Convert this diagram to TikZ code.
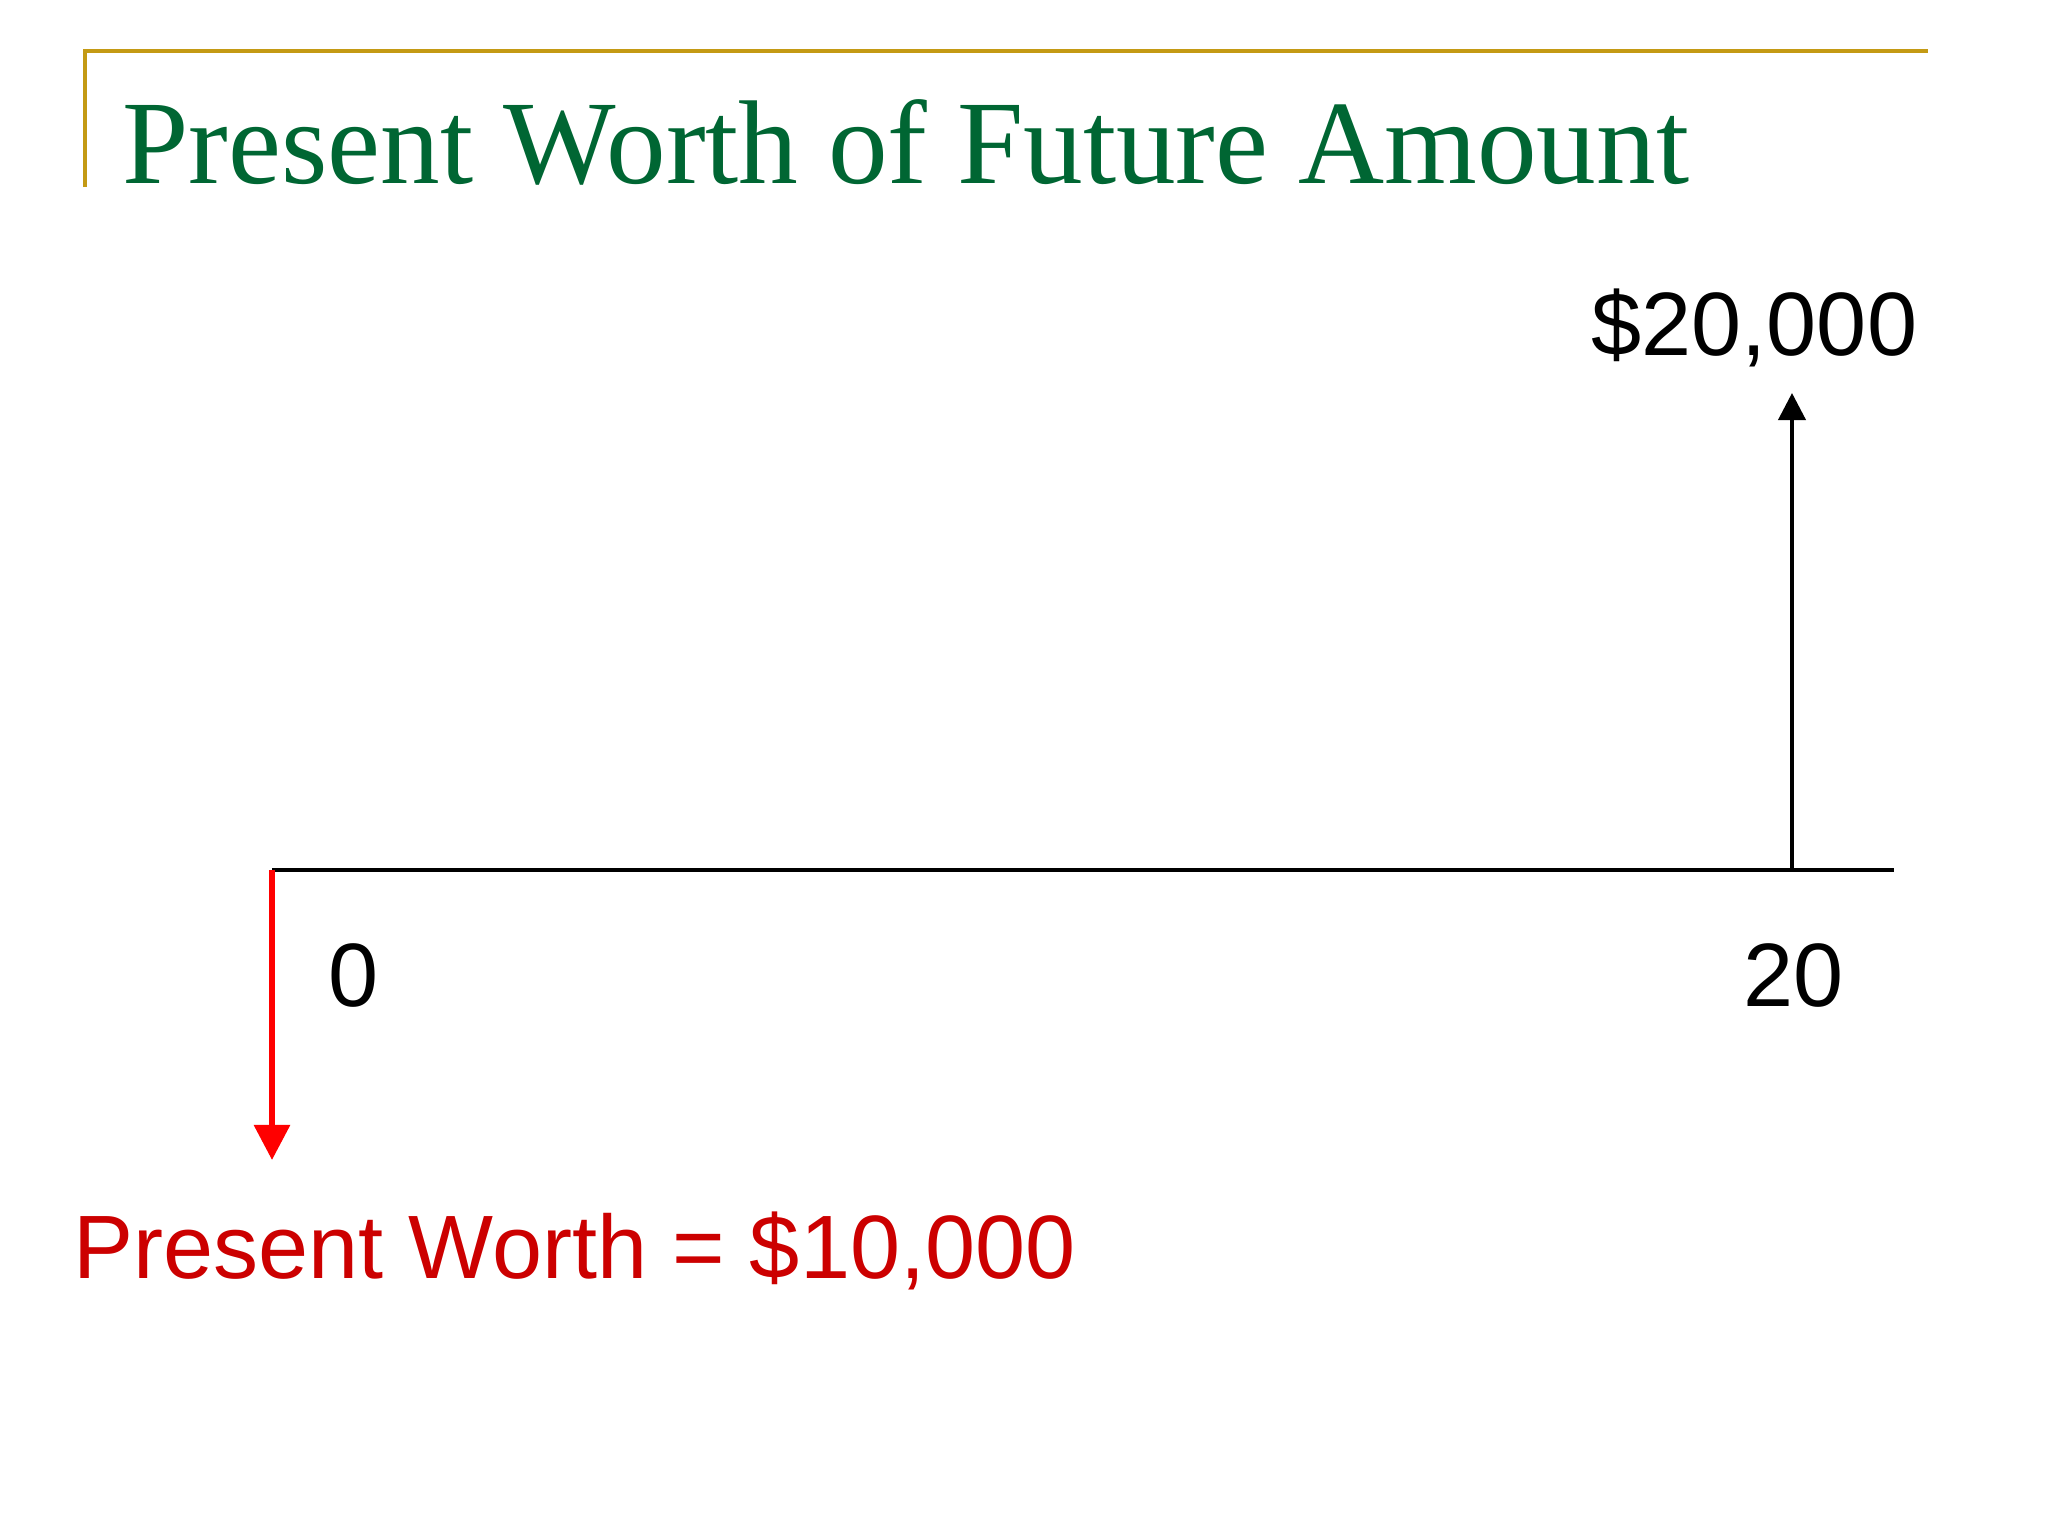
\documentclass[tikz,border=0pt]{standalone}
\usepackage{fontspec}
\setmainfont{Liberation Sans}
\newfontfamily\titlefont{Liberation Serif}
\usetikzlibrary{arrows.meta, positioning}
\definecolor{titlegreen}{RGB}{0, 102, 51}
\definecolor{framegold}{RGB}{196, 154, 20}
\definecolor{pwred}{RGB}{204, 0, 0}
\definecolor{arrowred}{RGB}{255, 0, 0}

\begin{document}
\begin{tikzpicture}[
    x=0.01cm, y=-0.01cm,
    title/.style={font=\titlefont\fontsize{33.9pt}{40pt}\selectfont, text=titlegreen, inner sep=0pt, anchor=base west},
    amount/.style={font=\fontsize{25.6pt}{30pt}\selectfont, inner sep=0pt, anchor=base west},
    axis/.style={line width=0.04cm},
    flowup/.style={line width=0.04cm, -{Triangle[length=0.27cm, width=0.27cm]}},
    flowdown/.style={line width=0.06cm, arrowred, -{Triangle[length=0.35cm, width=0.35cm]}}
]
\useasboundingbox (0,0) rectangle (2048,1536);

% Title frame and title
\draw[framegold, line width=0.04cm] (85,187) -- (85,51) -- (1928,51);
\node[title] (title) at (122,183) {Present Worth of Future Amount};

% Time axis
\coordinate (t0) at (272,870);
\coordinate (t20) at (1792,870);
\coordinate (tend) at (1894,870);
\draw[axis] (t0) -- (tend);

% Period labels
\node[amount] (n0) at (328,1006) {0};
\node[amount] (n20) at (1743,1006) {20};

% Future amount (up) and present worth (down)
\node[amount] (fv) at (1591,355) {\$20,000};
\coordinate (fvtip) at (1792,393);
\draw[flowup] (t20) -- (fvtip);

\coordinate (pwtip) at (272,1160);
\draw[flowdown] (t0) -- (pwtip);
\node[amount, text=pwred] (pw) at (73,1278) {Present Worth = \$10,000};

\end{tikzpicture}
\end{document}
